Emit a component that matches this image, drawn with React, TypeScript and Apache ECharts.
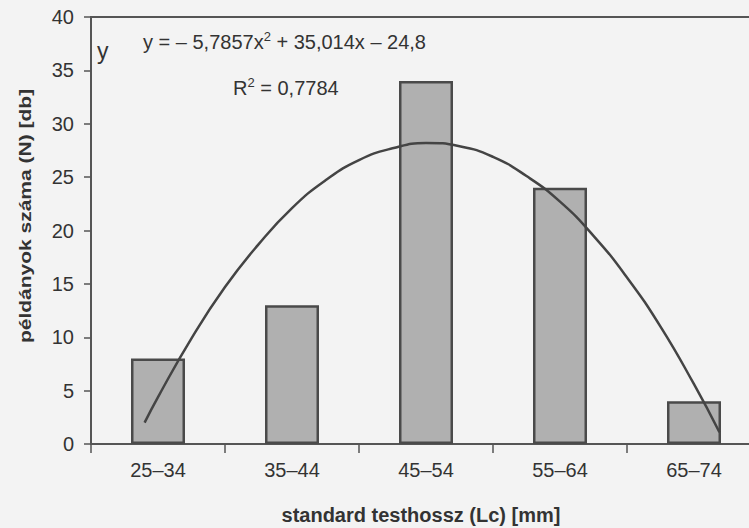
import React, { useEffect, useRef } from "react";
import * as echarts from "echarts";

const categories = ["25–34", "35–44", "45–54", "55–64", "65–74"];
const counts = [8, 13, 34, 24, 4];
// trendline points: [class position, N]
const trendX = [0.9, 1.0, 1.25, 1.5, 1.75, 2.0, 2.25, 2.5, 2.75, 3.0, 3.25, 3.5, 3.75, 4.0, 4.25, 4.5, 4.75, 5.0, 5.19];
const trendY = [2.0, 4.4, 9.9, 14.7, 18.7, 22.1, 24.7, 26.6, 27.7, 28.2, 27.9, 26.9, 25.1, 22.7, 19.5, 15.6, 11.0, 5.6, 1.1];
const yTicks = [0, 5, 10, 15, 20, 25, 30, 35, 40];

const FONT = "'Liberation Sans', Arial, sans-serif";

export default function App() {
  const ref = useRef<HTMLDivElement>(null);
  useEffect(() => {
    if (!ref.current) return;
    const chart = echarts.init(ref.current, undefined, { renderer: "svg" });
    chart.setOption({
      animation: false,
      backgroundColor: "#f3f3f3",
      textStyle: { fontFamily: FONT },
      grid: {
        left: 91,
        top: 17,
        width: 670,
        bottom: 84,
        show: true,
        borderColor: "#555",
        borderWidth: 2,
        backgroundColor: "transparent",
        outerBoundsMode: "none",
        containLabel: false,
      },
      xAxis: [
        {
          type: "category",
          data: categories,
          axisLine: { lineStyle: { color: "#555", width: 2 } },
          axisTick: { show: true, length: 9, lineStyle: { color: "#555", width: 1.5 } },
          axisLabel: { color: "#333", fontSize: 20, fontFamily: FONT, margin: 16 },
        },
        {
          type: "value",
          min: 0.5,
          max: 5.5,
          show: false,
        },
      ],
      yAxis: {
        type: "value",
        min: yTicks[0],
        max: yTicks[yTicks.length - 1],
        interval: 5,
        splitLine: { show: false },
        axisLine: { show: true, lineStyle: { color: "#555", width: 2 } },
        axisTick: { show: true, length: 7, lineStyle: { color: "#555", width: 1.5 } },
        axisLabel: { color: "#333", fontSize: 20, fontFamily: FONT, margin: 17 },
      },
      series: [
        {
          type: "bar",
          data: counts,
          barWidth: 54,
          itemStyle: { color: "#b0b0b0", borderColor: "#4a4a4a", borderWidth: 2.5 },
        },
        {
          type: "line",
          xAxisIndex: 1,
          data: trendX.map((x, i) => [x, trendY[i]]),
          smooth: true,
          symbol: "none",
          lineStyle: { color: "#444", width: 2.5 },
        },
      ],
      graphic: [
        { type: "text", left: 97, top: 39, style: { text: "y", fontSize: 23, fontFamily: FONT, fill: "#333" } },
        {
          type: "text",
          left: 143,
          top: 30,
          style: {
            text: "y = – 5,7857x{s|2} + 35,014x – 24,8",
            fontSize: 20,
            fontFamily: FONT,
            fill: "#333",
            rich: { s: { fontSize: 13, verticalAlign: "top", padding: [0, 0, 10, 0], fill: "#333" } },
          },
        },
        {
          type: "text",
          left: 233,
          top: 76,
          style: {
            text: "R{s|2} = 0,7784",
            fontSize: 20,
            fontFamily: FONT,
            fill: "#333",
            rich: { s: { fontSize: 13, verticalAlign: "top", padding: [0, 0, 10, 0], fill: "#333" } },
          },
        },
        {
          type: "text",
          x: 25,
          y: 216,
          rotation: Math.PI / 2,
          scaleY: 0.76,
          style: {
            text: "példányok száma (N) [db]",
            fontSize: 21,
            fontWeight: "bold",
            fontFamily: FONT,
            fill: "#333",
            align: "center",
            verticalAlign: "middle",
          },
        },
        {
          type: "text",
          x: 421,
          y: 515,
          style: {
            text: "standard testhossz (Lc) [mm]",
            fontSize: 20,
            fontWeight: "bold",
            fontFamily: FONT,
            fill: "#333",
            align: "center",
            verticalAlign: "middle",
          },
        },
      ],
    });
    return () => chart.dispose();
  }, []);
  return (
    <div
      ref={ref}
      style={{ position: "absolute", left: 0, top: 0, width: 749, height: 528 }}
    />
  );
}
